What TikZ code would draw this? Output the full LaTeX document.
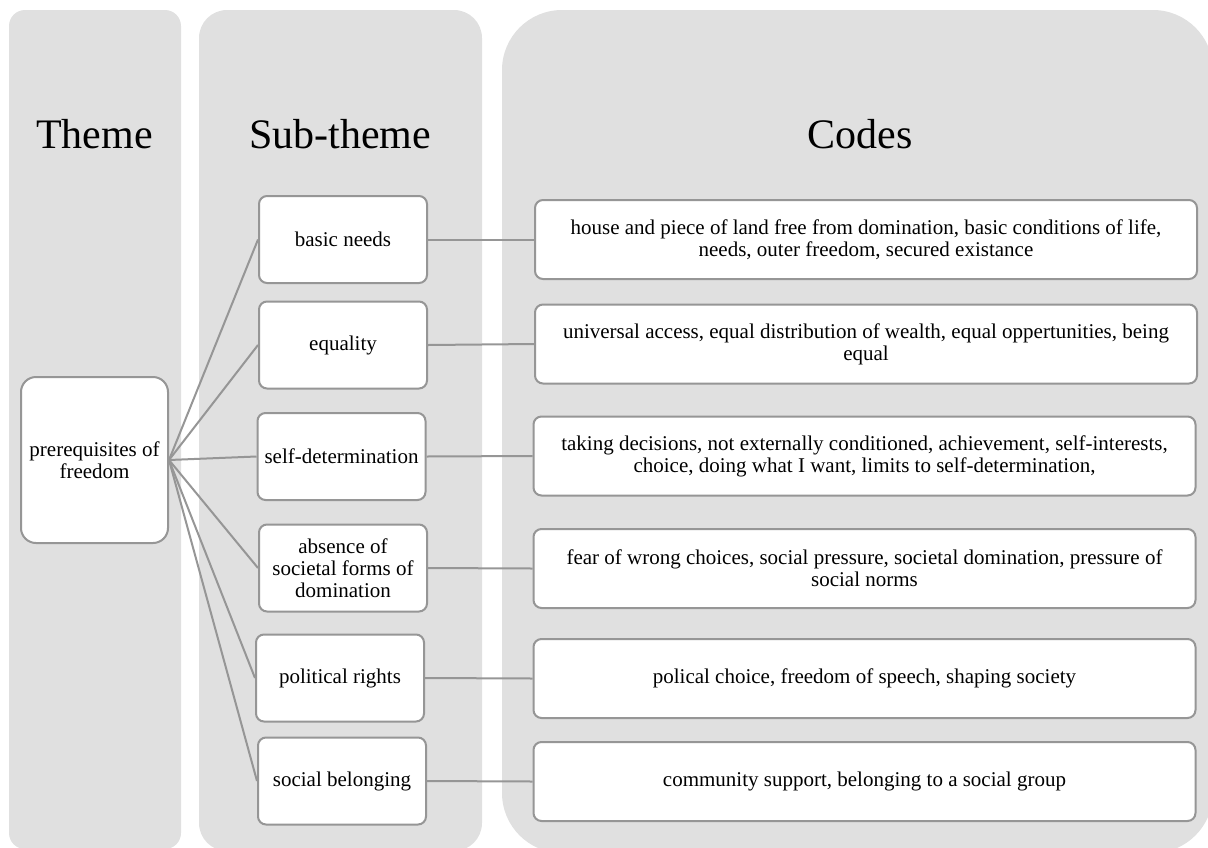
\documentclass[tikz,border=0pt]{standalone}
\usepackage{fontspec}
\setmainfont{Liberation Serif}
\definecolor{colbg}{RGB}{224,224,224}
\definecolor{edgegray}{RGB}{150,150,150}
\begin{document}
\begin{tikzpicture}[x=1pt,y=-1pt,
  colshape/.style={fill=colbg, draw=none},
  itembox/.style={draw=edgegray, line width=2pt, fill=white, rounded corners=8pt, align=center, inner sep=0pt, font=\fontsize{21}{22}\selectfont},
  subbox/.style={itembox, minimum width=168pt, minimum height=87pt},
  codebox/.style={itembox, minimum width=662pt, minimum height=79pt},
  themebox/.style={itembox, rounded corners=15pt, minimum width=147pt, minimum height=166pt},
  link/.style={draw=edgegray, line width=2pt},
  header/.style={anchor=base, font=\fontsize{42}{50}\selectfont}
]
\useasboundingbox (0,0) rectangle (1208,847);
\clip (0,0) rectangle (1208,847);
% columns
\fill[colshape, rounded corners=16pt] (9,10) rectangle (181,849);
\fill[colshape, rounded corners=28pt] (199,10) rectangle (482,851);
\fill[colshape, rounded corners=60pt] (502,10) rectangle (1213,853);
% headers
\node[header] (hTheme) at (94.5,148) {Theme};
\node[header] (hSub) at (340,148) {Sub-theme};
\node[header] (hCodes) at (860,148) {Codes};
% theme
\node[themebox] (theme) at (94.5,460) {prerequisites of\\freedom};
% sub-themes
\node[subbox] (basic) at (343,239.5) {basic needs};
\node[subbox] (equal) at (343,345) {equality};
\node[subbox] (selfdet) at (341.5,456.5) {self-determination};
\node[subbox] (absence) at (343,568) {absence of\\societal forms of\\domination};
\node[subbox] (polit) at (340,678) {political rights};
\node[subbox] (social) at (342,781) {social belonging};
% codes
\node[codebox] (c1) at (866,239.5) {house and piece of land free from domination, basic conditions of life,\\needs, outer freedom, secured existance};
\node[codebox] (c2) at (866,344) {universal access, equal distribution of wealth, equal oppertunities, being\\equal};
\node[codebox] (c3) at (864.5,456) {taking decisions, not externally conditioned, achievement, self-interests,\\choice, doing what I want, limits to self-determination,};
\node[codebox] (c4) at (864.5,568.5) {fear of wrong choices, social pressure, societal domination, pressure of\\social norms};
\node[codebox] (c5) at (864.5,678.5) {polical choice, freedom of speech, shaping society};
\node[codebox] (c6) at (864.5,781.5) {community support, belonging to a social group};
% connectors theme -> sub-themes
\draw[link] (theme.east) -- (basic.west);
\draw[link] (theme.east) -- (equal.west);
\draw[link] (theme.east) -- (selfdet.west);
\draw[link] (theme.east) -- (absence.west);
\draw[link] (theme.east) -- (polit.west);
\draw[link] (theme.east) -- (social.west);
% connectors sub-themes -> codes
\draw[link] (basic.east) -- (c1.west);
\draw[link] (equal.east) -- (c2.west);
\draw[link] (selfdet.east) -- (c3.west);
\draw[link] (absence.east) -- (c4.west);
\draw[link] (polit.east) -- (c5.west);
\draw[link] (social.east) -- (c6.west);
\end{tikzpicture}
\end{document}
